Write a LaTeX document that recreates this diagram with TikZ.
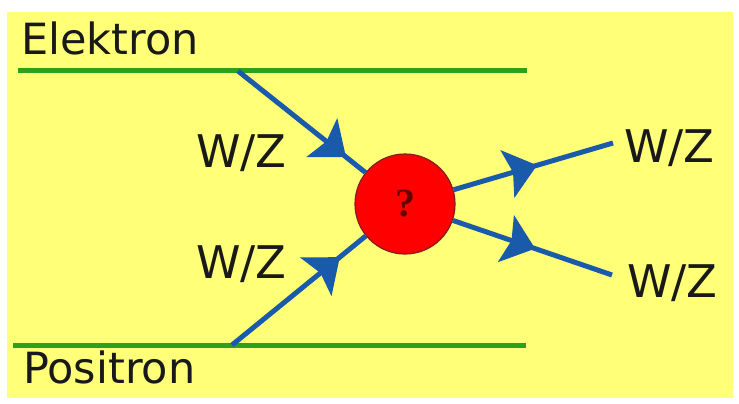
\documentclass[tikz,border=0pt]{standalone}
\usepackage{fontspec}
\setmainfont{DejaVu Sans}
\newfontfamily\qfont{Liberation Serif}
\usetikzlibrary{arrows.meta,decorations.markings}
\definecolor{bgyellow}{RGB}{255,255,120}
\definecolor{linegreen}{RGB}{45,160,30}
\definecolor{bosonblue}{RGB}{25,90,170}
\definecolor{qred}{RGB}{100,0,0}
\definecolor{blobedge}{RGB}{130,30,30}
\begin{document}
\begin{tikzpicture}[x=1pt,y=-1pt,
  lbl/.style={anchor=base west,inner sep=0pt,font=\fontsize{43}{43}\selectfont,text=black!90},
  wz/.style={anchor=base west,inner sep=0pt,font=\fontsize{45}{45}\selectfont,text=black!90},
  fermion/.style={draw=linegreen,line width=5pt},
  boson/.style={draw=bosonblue,line width=5pt},
  arrowat/.style={postaction={decorate},decoration={markings,
     mark=at position #1 with {\fill[bosonblue] (0pt,0pt) -- (-31pt,25pt) -- (-25pt,0pt) -- (-31pt,-25pt) -- cycle;}}},
  blobstyle/.style={circle,fill=red,draw=blobedge,line width=1.2pt,minimum size=100pt,inner sep=0pt,
     font=\qfont\bfseries\fontsize{40}{40}\selectfont,text=qred}
]
\useasboundingbox (0,0) rectangle (739,404);
\fill[white] (0,0) rectangle (739,404);
\fill[bgyellow] (7,12) rectangle (733,398);

% labels
\node[lbl] (elek) at (21,55) {Elektron};
\node[lbl] (posi) at (23,383) {Positron};
\node[wz] (wzlt) at (196,167) {W/Z};
\node[wz] (wzlb) at (196,278) {W/Z};
\node[wz] (wzrt) at (624,162) {W/Z};
\node[wz] (wzrb) at (627,297) {W/Z};

% fermion lines
\coordinate (e1) at (18,71);
\coordinate (e2) at (527,71);
\coordinate (ev) at (238,71);
\coordinate (p1) at (13,345);
\coordinate (p2) at (526,345);
\coordinate (pv) at (232,345);
\draw[fermion] (e1) -- (e2);
\draw[fermion] (p1) -- (p2);

% blob
\node[blobstyle] (blob) at (405,204) {?};

% outgoing endpoints
\coordinate (ot) at (613,143);
\coordinate (ob) at (612,275);

% boson lines
\draw[boson,arrowat=138pt] (ev) -- (blob);
\draw[boson,arrowat=139pt] (pv) -- (blob);
\draw[boson,arrowat=87pt] (blob) -- (ot);
\draw[boson,arrowat=87pt] (blob) -- (ob);
\end{tikzpicture}
\end{document}
